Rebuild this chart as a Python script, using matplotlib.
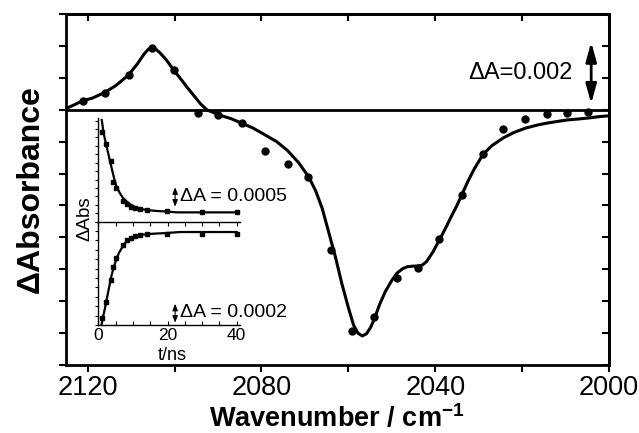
import numpy as np
import matplotlib
matplotlib.use('Agg')
import matplotlib.pyplot as plt
from matplotlib.ticker import MultipleLocator, NullFormatter

plt.rcParams['font.family'] = ['Liberation Sans', 'DejaVu Sans']
plt.rcParams['mathtext.fontset'] = 'custom'
plt.rcParams['mathtext.rm'] = 'Liberation Sans'
plt.rcParams['mathtext.bf'] = 'Liberation Sans:bold'

# ---- main spectrum: measured points ----
wn_pts = [2121.1, 2116.1, 2110.6, 2105.3, 2100.2, 2094.7, 2089.9, 2084.4,
          2079.3, 2074.0, 2069.2, 2063.9, 2059.1, 2054.0, 2048.7, 2043.9,
          2039.1, 2033.8, 2029.0, 2024.4, 2019.3, 2014.2, 2009.6, 2004.8]
dA_pts = [0.00028, 0.00053, 0.00109, 0.00194, 0.00125, -0.00010, -0.00016, -0.00043,
          -0.00128, -0.00169, -0.00212, -0.00440, -0.00694, -0.00650, -0.00528, -0.00497,
          -0.00406, -0.00266, -0.00138, -0.00059, -0.00028, -0.00013, -0.00009, -0.00006]

# ---- main spectrum: fit curve ----
fit_wn = [2124.8, 2123.0, 2121.2, 2119.0, 2116.1, 2113.5, 2110.6, 2108.5, 2107.0,
          2106.0, 2105.3, 2104.5, 2103.5, 2102.0, 2100.2, 2098.5, 2097.1, 2095.5,
          2094.0, 2092.5, 2091.0, 2089.9, 2087.0, 2084.4, 2082.0, 2079.3, 2076.5,
          2074.0, 2071.5, 2069.1, 2067.5, 2066.0, 2064.5, 2063.0, 2061.5, 2060.0,
          2058.8, 2057.8, 2056.8, 2055.8, 2054.8, 2054.0, 2052.8, 2051.5, 2050.0,
          2048.8, 2047.5, 2046.4, 2045.0, 2044.2, 2043.0, 2042.0, 2040.5, 2039.0,
          2037.5, 2036.5, 2035.0, 2033.9, 2032.5, 2031.0, 2029.0, 2027.0, 2024.3,
          2022.0, 2019.3, 2016.5, 2014.3, 2012.0, 2009.6, 2007.0, 2004.8, 2002.5,
          2000.0]
fit_dA = [0.05, 0.16, 0.28, 0.36, 0.54, 0.76, 1.09, 1.45, 1.75,
          1.90, 1.95, 1.92, 1.80, 1.58, 1.24, 0.95, 0.70, 0.43,
          0.18, -0.01, -0.09, -0.16, -0.28, -0.43, -0.57, -0.78, -1.00,
          -1.28, -1.65, -2.11, -2.55, -3.10, -3.85, -4.60, -5.45, -6.20,
          -6.75, -7.00, -7.09, -7.02, -6.80, -6.55, -6.10, -5.70, -5.35,
          -5.12, -4.98, -4.92, -4.90, -4.90, -4.87, -4.76, -4.45, -4.07,
          -3.68, -3.40, -3.00, -2.67, -2.25, -1.85, -1.40, -1.13, -0.88,
          -0.72, -0.58, -0.48, -0.42, -0.37, -0.32, -0.29, -0.26, -0.22,
          -0.19]
fit_dA = [v * 1e-3 for v in fit_dA]

# ---- inset: kinetics ----
t_pts = [1.16, 2.2, 3.6, 4.2, 5.1, 7.2, 8.2, 9.4, 10.6, 12.1, 14.0, 19.8, 29.9, 40.0]
top_pts = [0.00232, 0.00199, 0.00155, 0.00103, 0.00086, 0.00054, 0.00046, 0.00039,
           0.00035, 0.00032, 0.00030, 0.00028, 0.00026, 0.00024]
bot_pts = [-0.00103, -0.00085, -0.00062, -0.00048, -0.00039, -0.00025, -0.00020, -0.00017,
           -0.00015, -0.00014, -0.00013, -0.00013, -0.00013, -0.00013]

t_fit_top = [0.98, 1.2, 1.45, 1.8, 2.2, 2.7, 3.2, 3.7, 4.2, 4.7, 5.3, 6.2, 7.2, 8.2,
             9.2, 10.4, 11.6, 12.8, 14.0, 16.5, 19.8, 23.0, 40.0]
top_fit = [0.00262, 0.00250, 0.00232, 0.00217, 0.00202, 0.00182, 0.00163, 0.00144,
           0.00125, 0.00107, 0.00090, 0.00074, 0.00060, 0.00052, 0.00045, 0.00039,
           0.00035, 0.00032, 0.00030, 0.00028, 0.00026, 0.00024, 0.00024]
t_fit_bot = [0.98, 1.45, 1.94, 2.4, 2.9, 3.4, 3.9, 4.6, 5.3, 6.0, 6.8, 7.5, 8.2, 9.0,
             9.7, 10.9, 12.1, 14.9, 19.8, 23.6, 40.0]
bot_fit = [-0.00109, -0.00100, -0.00092, -0.00083, -0.00074, -0.00065, -0.00056,
           -0.00047, -0.00039, -0.00033, -0.00028, -0.00024, -0.00021, -0.00019,
           -0.00017, -0.000155, -0.00014, -0.00013, -0.00012, -0.00011, -0.00011]

W, H = 639, 433
fig = plt.figure(figsize=(W/100, H/100), dpi=100)

# ---------------- main axes ----------------
ax = fig.add_axes([66/W, 1-365/H, (609-66)/W, (365-14)/H])
ax.axhline(0, color='k', lw=2, zorder=2)
ax.plot(fit_wn, fit_dA, color='k', lw=2.2, zorder=3,
        solid_joinstyle='round', solid_capstyle='round')
ax.plot(wn_pts, dA_pts, 'o', color='k', ms=5, zorder=4)
ax.set_xlim(2125, 2000)
ax.set_ylim(-0.008, 0.003)
ax.xaxis.set_major_locator(MultipleLocator(40))
ax.xaxis.set_minor_locator(MultipleLocator(20))
ax.yaxis.set_major_locator(MultipleLocator(0.001))
ax.yaxis.set_major_formatter(NullFormatter())
ax.tick_params(axis='x', which='both', direction='out', length=5, width=1.5,
               labelsize=19.5, pad=2, top=False)
ax.tick_params(axis='y', direction='out', length=5, width=1.5, right=False)
for s in ax.spines.values():
    s.set_linewidth(2)

secx = ax.secondary_xaxis('top')
secx.xaxis.set_major_locator(MultipleLocator(20))
secx.tick_params(axis='x', direction='in', length=5, width=1.5, labeltop=False)
secx.spines['top'].set_linewidth(2)
secy = ax.secondary_yaxis('right')
secy.yaxis.set_major_locator(MultipleLocator(0.001))
secy.tick_params(axis='y', direction='in', length=5, width=1.5, labelright=False)
secy.spines['right'].set_linewidth(2)

ax.text(2008.3, 0.00116, 'ΔA=0.002', ha='right', va='center', fontsize=17)
ax.annotate('', xy=(2004.1, 0.00212), xytext=(2004.1, 0.00019),
            arrowprops=dict(arrowstyle='<|-|>,head_length=0.58,head_width=0.16',
                            mutation_scale=20, lw=2, color='k',
                            shrinkA=0, shrinkB=0))

fig.text(31/W, 1-189/H, 'ΔAbsorbance', rotation=90, ha='center', va='center',
         fontsize=23, fontweight='bold')
fig.text(337/W, 1-427/H, r'Wavenumber / cm$^{\mathbf{-1}}$', ha='center',
         va='baseline', fontsize=19.5, fontweight='bold')

# ---------------- inset ----------------
il, iw = 98.3/W, (240.2-98.3)/W
axt = fig.add_axes([il, 1-221.7/H, iw, (221.7-118)/H], facecolor='none')
axb = fig.add_axes([il, 1-325/H, iw, (325-221.7)/H], facecolor='none')

axt.plot(t_fit_top, top_fit, color='k', lw=1.6, solid_joinstyle='round')
axt.plot(t_pts, top_pts, 's', color='k', ms=2.6)
axt.set_xlim(0, 41)
axt.set_ylim(0, 0.00267)
axt.yaxis.set_major_locator(MultipleLocator(0.000217))
axt.yaxis.set_major_formatter(NullFormatter())
axt.tick_params(axis='y', direction='out', length=2.5, width=0.8)
axt.tick_params(axis='x', bottom=False, labelbottom=False)
for k in ['top', 'right', 'bottom']:
    axt.spines[k].set_visible(False)
axt.spines['left'].set_linewidth(1)

axb.plot(t_fit_bot, bot_fit, color='k', lw=1.6, solid_joinstyle='round')
axb.plot(t_pts, bot_pts, 's', color='k', ms=2.6)
axb.set_xlim(0, 41)
axb.set_ylim(-0.0011, 0)
axb.yaxis.set_major_locator(MultipleLocator(0.0001))
axb.yaxis.set_major_formatter(NullFormatter())
axb.xaxis.set_major_locator(MultipleLocator(20))
axb.xaxis.set_minor_locator(MultipleLocator(5))
axb.tick_params(axis='y', direction='out', length=2.5, width=0.8)
axb.tick_params(axis='x', which='both', direction='in', length=3, width=0.8,
                top=True, labelsize=12.5, pad=2.5)
axb.spines['right'].set_visible(False)
for k in ['left', 'top', 'bottom']:
    axb.spines[k].set_linewidth(1)

axt.annotate('', xy=(22.2, 0.000886), xytext=(22.2, 0.000387),
             arrowprops=dict(arrowstyle='<|-|>,head_length=0.5,head_width=0.2',
                             mutation_scale=8, lw=0.8, color='k',
                             shrinkA=0, shrinkB=0))
axt.text(23.6, 0.00066, 'ΔA = 0.0005', ha='left', va='center', fontsize=14)
axb.annotate('', xy=(22.2, -0.000874), xytext=(22.2, -0.001075),
             arrowprops=dict(arrowstyle='<|-|>,head_length=0.5,head_width=0.2',
                             mutation_scale=8, lw=0.8, color='k',
                             shrinkA=0, shrinkB=0))
axb.text(23.6, -0.000966, 'ΔA = 0.0002', ha='left', va='center', fontsize=14)

fig.text(85/W, 1-219/H, 'ΔAbs', rotation=90, ha='center', va='center', fontsize=13.5)
fig.text(172/W, 1-360/H, 't/ns', ha='center', va='baseline', fontsize=13)

fig.savefig('out.png', dpi=100)
